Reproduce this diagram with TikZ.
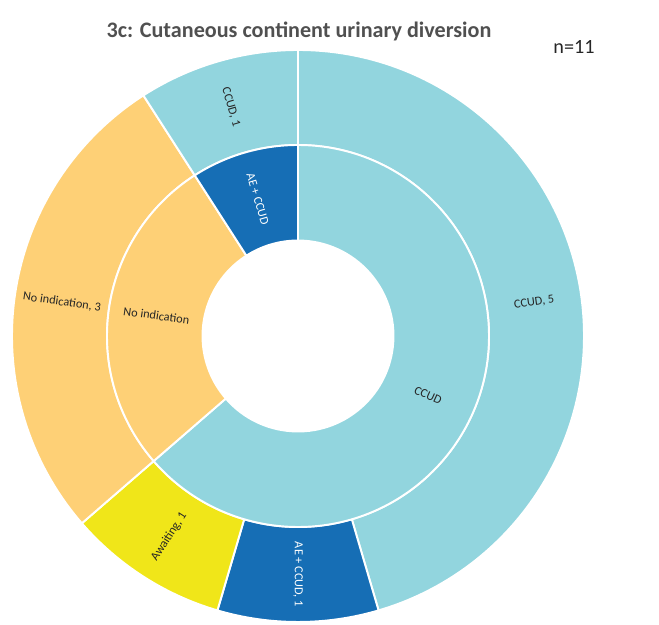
\documentclass[tikz,border=0pt]{standalone}
\usepackage{fontspec}
\setmainfont{Carlito}
\usetikzlibrary{positioning}
\definecolor{ccudblue}{HTML}{92D5DE}
\definecolor{aeblue}{HTML}{166EB5}
\definecolor{noorange}{HTML}{FED076}
\definecolor{waityellow}{HTML}{F0E619}
\definecolor{labelgrey}{HTML}{262626}
\definecolor{titlegrey}{HTML}{505050}
\tikzset{
  sblabel/.style={text=labelgrey, font=\fontsize{7}{8}\selectfont, inner sep=0pt},
  sbwhite/.style={text=white, font=\fontsize{7}{8}\selectfont, inner sep=0pt}
}
\newcommand{\sbsegment}[5] {\fill [#5, draw=white, line width=1.1pt] (#1:#3) -- (#1:#4) arc [start angle=#1, end angle=#2, radius=#4] -- (#2:#3) arc [start angle=#2, end angle=#1, radius=#3] -- cycle;}
\newcommand{\sblabel}[5] {\node at (#1:#2) (#3) [rotate=#4, sblabel] {#5};}
\newcommand{\sbwhitelabel}[5] {\node at (#1:#2) (#3) [rotate=#4, sbwhite] {#5};}

\begin{document}
\begin{tikzpicture}[x=0.02cm, y=0.02cm]
\useasboundingbox (-298,-289) rectangle (361,336);

% outer ring
\sbsegment {90}{-73.636}{191}{286}{ccudblue}
\sbsegment {-73.636}{-106.364}{191}{286}{aeblue}
\sbsegment {-106.364}{-139.091}{191}{286}{waityellow}
\sbsegment {-139.091}{-237.273}{191}{286}{noorange}
\sbsegment {-237.273}{-270}{191}{286}{ccudblue}

% inner ring
\sbsegment {90}{-139.091}{95.5}{191}{ccudblue}
\sbsegment {-139.091}{-237.273}{95.5}{191}{noorange}
\sbsegment {-237.273}{-270}{95.5}{191}{aeblue}

% labels
\sblabel {8.18}{238.5}{ccudfive}{8.18}{CCUD, 5}
\sbwhitelabel {-90}{238.5}{aeccudone}{-90}{AE + CCUD, 1}
\sblabel {-122.73}{238.5}{awaitone}{57.27}{Awaiting, 1}
\sblabel {171.82}{238.5}{noindthree}{-8.18}{No indication, 3}
\sblabel {106.36}{238.5}{ccudone}{-73.64}{CCUD, 1}
\sblabel {-24.55}{143}{ccudin}{-24.55}{CCUD}
\sblabel {171.82}{143}{noindin}{-8.18}{No indication}
\sbwhitelabel {106.36}{143}{aeccudin}{-73.64}{AE + CCUD}

\node at (1,305) (title) [text=titlegrey, font=\bfseries\fontsize{12.6}{15}\selectfont] {3c: Cutaneous continent urinary diversion};
\node at (276,289) (ncount) [text=labelgrey, font=\fontsize{11.5}{13}\selectfont] {n=11};

\end{tikzpicture}
\end{document}
